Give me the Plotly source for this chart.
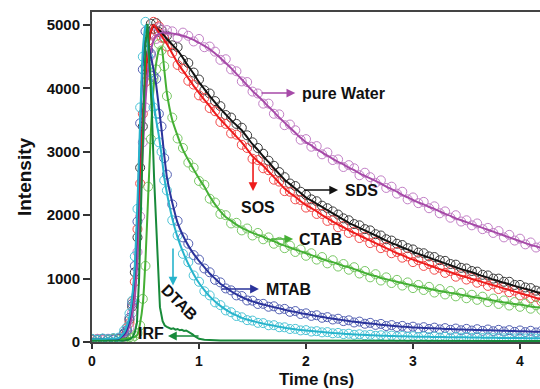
import plotly.graph_objects as go

# ---------------- data ----------------
t_data = [0.00, 0.05, 0.10, 0.15, 0.20, 0.25, 0.30, 0.325, 0.35, 0.375,
          0.40, 0.425, 0.45, 0.475, 0.50, 0.525, 0.55, 0.575, 0.60, 0.625,
          0.65, 0.675, 0.70, 0.75, 0.80, 0.85, 0.90, 0.95, 1.00, 1.05,
          1.10, 1.15, 1.20, 1.25, 1.30, 1.35, 1.40, 1.45, 1.50, 1.55,
          1.60, 1.65, 1.70, 1.75, 1.80, 1.85, 1.90, 1.95, 2.00, 2.05,
          2.10, 2.15, 2.20, 2.25, 2.30, 2.35, 2.40, 2.45, 2.50, 2.55,
          2.60, 2.65, 2.70, 2.75, 2.80, 2.85, 2.90, 2.95, 3.00, 3.05,
          3.10, 3.15, 3.20, 3.25, 3.30, 3.35, 3.40, 3.45, 3.50, 3.55,
          3.60, 3.65, 3.70, 3.75, 3.80, 3.85, 3.90, 3.95, 4.00, 4.05,
          4.10, 4.15, 4.20]

# measured decays (open circles)
water_data = [35, 48, 30, 52, 41, 58, 80, 175, 230, 460,
              650, 1420, 1980, 3150, 3700, 4420, 4520, 4860, 4780, 4960,
              4930, 4850, 4920, 4900, 4800, 4880, 4830, 4740, 4780, 4650,
              4660, 4580, 4450, 4460, 4300, 4270, 4110, 4100, 3950, 3920,
              3760, 3760, 3600, 3590, 3420, 3430, 3340, 3190, 3200, 3080,
              3090, 2960, 2990, 2870, 2880, 2760, 2790, 2740, 2630, 2670,
              2600, 2510, 2550, 2430, 2450, 2340, 2370, 2250, 2280, 2190,
              2210, 2110, 2140, 2030, 2060, 1960, 2000, 1900, 1920, 1840,
              1870, 1780, 1800, 1720, 1750, 1650, 1690, 1600, 1630, 1540,
              1570, 1490, 1510]
sds_data = [45, 32, 50, 38, 55, 47, 130, 180, 350, 560,
            1100, 1650, 2750, 3400, 4350, 4600, 5020, 4940, 5030, 4890,
            4920, 4800, 4830, 4680, 4650, 4450, 4400, 4250, 4140, 3970,
            3920, 3800, 3720, 3580, 3540, 3440, 3380, 3260, 3150, 3060,
            2970, 2860, 2780, 2680, 2600, 2500, 2460, 2370, 2320, 2250,
            2220, 2150, 2110, 2060, 2010, 1950, 1920, 1860, 1840, 1780,
            1760, 1700, 1680, 1620, 1600, 1550, 1530, 1480, 1460, 1410,
            1400, 1350, 1340, 1290, 1280, 1230, 1220, 1170, 1160, 1120,
            1110, 1060, 1050, 1000, 1000, 950, 950, 900, 900, 860,
            850, 810, 800]
sos_data = [38, 50, 42, 35, 48, 55, 95, 220, 300, 640,
            950, 1780, 2500, 3600, 4100, 4750, 4850, 5050, 4900, 4980,
            4800, 4790, 4660, 4560, 4370, 4310, 4120, 4060, 3890, 3850,
            3690, 3640, 3470, 3440, 3290, 3270, 3110, 3060, 2890, 2870,
            2740, 2710, 2560, 2530, 2380, 2370, 2250, 2240, 2120, 2130,
            2020, 2020, 1910, 1920, 1810, 1830, 1720, 1740, 1640, 1660,
            1560, 1580, 1480, 1500, 1400, 1420, 1330, 1350, 1260, 1290,
            1200, 1230, 1140, 1170, 1090, 1120, 1030, 1065, 985, 1010,
            935, 960, 885, 910, 835, 860, 785, 810, 735, 760,
            690, 710, 640]
ctab_data = [42, 30, 48, 36, 50, 40, 55, 48, 70, 62,
             95, 140, 260, 680, 1200, 2450, 3200, 4150, 4300, 4700,
             4600, 4350, 3880, 3540, 3210, 3060, 2830, 2750, 2540, 2480,
             2260, 2200, 2020, 2000, 1870, 1880, 1760, 1790, 1680, 1720,
             1620, 1650, 1550, 1580, 1480, 1520, 1420, 1460, 1360, 1400,
             1300, 1340, 1240, 1290, 1190, 1230, 1140, 1180, 1080, 1120,
             1020, 1070, 970, 1020, 930, 980, 890, 940, 850, 900,
             820, 870, 780, 835, 750, 805, 720, 775, 690, 745,
             665, 715, 630, 685, 600, 655, 575, 630, 555, 605,
             525, 580, 505]
mtab_data = [45, 35, 50, 42, 38, 55, 140, 180, 380, 600,
             1200, 1900, 3450, 4300, 4900, 4600, 4550, 4200, 4150, 3600,
             3400, 2900, 2640, 2170, 1910, 1650, 1550, 1370, 1300, 1160,
             1100, 980, 940, 845, 815, 735, 725, 655, 652, 600,
             602, 556, 563, 515, 522, 476, 488, 441, 452, 412,
             422, 382, 392, 355, 367, 330, 342, 308, 322, 288,
             302, 270, 285, 252, 267, 236, 254, 224, 242, 214,
             234, 206, 227, 199, 219, 192, 212, 185, 207, 180,
             202, 175, 197, 170, 192, 166, 187, 160, 182, 156,
             177, 150, 172]
dtab_data = [50, 38, 55, 42, 60, 70, 180, 230, 450, 650,
             1350, 2100, 3700, 4500, 5050, 4500, 4250, 3700, 3600, 3150,
             3000, 2550, 2390, 1920, 1680, 1390, 1260, 1050, 950, 800,
             735, 625, 582, 498, 470, 410, 390, 345, 338, 302,
             298, 264, 265, 233, 232, 205, 207, 183, 187, 165,
             171, 152, 156, 137, 143, 125, 131, 114, 122, 106,
             114, 98, 106, 91, 101, 86, 96, 82, 91, 78,
             88, 75, 86, 72, 83, 70, 81, 68, 79, 66,
             76, 63, 74, 61, 71, 58, 69, 56, 68, 55,
             66, 54, 65]

# fitted curves (solid lines), same time grid
water_fit = [40, 40, 40, 45, 45, 50, 90, 150, 250, 420,
             700, 1300, 2100, 3000, 3800, 4300, 4600, 4750, 4830, 4860,
             4880, 4880, 4875, 4865, 4850, 4830, 4800, 4765, 4720, 4670,
             4620, 4550, 4480, 4400, 4320, 4230, 4140, 4050, 3960, 3880,
             3800, 3710, 3630, 3540, 3460, 3380, 3300, 3220, 3150, 3100,
             3040, 2990, 2940, 2890, 2840, 2800, 2750, 2710, 2660, 2620,
             2580, 2540, 2500, 2450, 2410, 2370, 2320, 2280, 2240, 2200,
             2170, 2130, 2100, 2060, 2020, 1990, 1950, 1920, 1890, 1860,
             1830, 1800, 1770, 1740, 1710, 1680, 1650, 1620, 1590, 1560,
             1530, 1510, 1480]
sds_fit = [40, 40, 40, 45, 45, 50, 110, 200, 320, 600,
           1000, 1700, 2600, 3500, 4200, 4650, 4900, 4980, 4960, 4920,
           4880, 4830, 4780, 4690, 4600, 4480, 4350, 4230, 4100, 3990,
           3880, 3780, 3680, 3590, 3500, 3420, 3340, 3230, 3120, 3030,
           2930, 2840, 2740, 2650, 2560, 2490, 2420, 2350, 2280, 2230,
           2180, 2130, 2080, 2030, 1980, 1930, 1880, 1840, 1800, 1760,
           1720, 1680, 1640, 1600, 1560, 1530, 1490, 1460, 1420, 1390,
           1360, 1330, 1300, 1270, 1240, 1210, 1180, 1150, 1125, 1100,
           1070, 1040, 1015, 985, 960, 935, 910, 885, 860, 840,
           815, 790, 770]
sos_fit = [40, 40, 40, 45, 45, 50, 110, 200, 320, 600,
           1000, 1700, 2600, 3500, 4200, 4650, 4900, 5000, 4950, 4880,
           4830, 4760, 4700, 4550, 4400, 4280, 4160, 4040, 3930, 3820,
           3720, 3610, 3510, 3420, 3330, 3240, 3150, 3040, 2930, 2850,
           2780, 2690, 2600, 2510, 2420, 2350, 2290, 2220, 2160, 2110,
           2060, 2000, 1950, 1900, 1850, 1810, 1760, 1720, 1680, 1640,
           1600, 1560, 1520, 1480, 1440, 1400, 1370, 1330, 1300, 1270,
           1240, 1210, 1180, 1150, 1125, 1100, 1070, 1045, 1020, 995,
           970, 945, 920, 895, 870, 845, 820, 795, 770, 745,
           720, 695, 670]
ctab_fit = [40, 40, 40, 40, 45, 45, 50, 55, 60, 70,
            80, 120, 300, 600, 1300, 2300, 3300, 4000, 4400, 4600,
            4650, 4300, 3925, 3500, 3250, 3030, 2870, 2720, 2580, 2450,
            2300, 2170, 2060, 1970, 1910, 1850, 1800, 1760, 1720, 1690,
            1660, 1620, 1590, 1550, 1520, 1490, 1460, 1430, 1400, 1370,
            1340, 1310, 1280, 1260, 1230, 1200, 1180, 1150, 1120, 1090,
            1060, 1040, 1010, 990, 970, 950, 930, 910, 890, 870,
            855, 840, 820, 805, 790, 775, 760, 745, 730, 715,
            700, 685, 670, 655, 640, 625, 610, 600, 590, 575,
            560, 550, 540]
mtab_fit = [40, 40, 45, 40, 45, 50, 120, 200, 350, 650,
            1100, 2000, 3300, 4400, 4800, 4700, 4500, 4300, 4050, 3700,
            3350, 2950, 2600, 2200, 1880, 1680, 1520, 1390, 1280, 1180,
            1080, 1000, 920, 860, 800, 750, 710, 670, 640, 615,
            590, 570, 550, 530, 510, 490, 475, 455, 440, 425,
            410, 395, 380, 368, 355, 343, 330, 320, 310, 300,
            290, 282, 273, 264, 255, 248, 242, 236, 230, 226,
            222, 218, 215, 211, 207, 204, 200, 197, 195, 192,
            190, 187, 185, 182, 180, 178, 175, 172, 170, 168,
            165, 162, 160]
dtab_fit = [45, 45, 45, 50, 50, 60, 150, 250, 400, 700,
            1200, 2200, 3500, 4600, 5000, 4600, 4150, 3800, 3500, 3250,
            2950, 2600, 2350, 1950, 1650, 1420, 1230, 1070, 930, 820,
            720, 640, 570, 510, 460, 420, 380, 355, 330, 310,
            290, 272, 258, 240, 225, 212, 200, 190, 180, 172,
            165, 158, 150, 143, 137, 131, 125, 120, 116, 112,
            108, 104, 100, 97, 95, 92, 90, 88, 85, 84,
            82, 81, 80, 78, 77, 76, 75, 74, 73, 72,
            70, 69, 68, 67, 65, 64, 63, 62, 62, 61,
            60, 60, 60]

# instrument response function
t_irf = [0.00, 0.10, 0.20, 0.30, 0.35, 0.38, 0.40, 0.42, 0.44, 0.46,
         0.48, 0.50, 0.52, 0.54, 0.56, 0.58, 0.60, 0.62, 0.635, 0.66,
         0.68, 0.70, 0.72, 0.74, 0.76, 0.78, 0.80, 0.82, 0.84, 0.86,
         0.88, 0.90, 0.92, 0.94, 0.96, 0.98, 1.00, 1.05, 1.10, 1.20,
         1.50, 2.00, 2.50, 3.00, 3.50, 4.00, 4.20]
irf = [20, 22, 20, 25, 40, 80, 150, 300, 1000, 2200,
       3700, 4700, 5020, 4300, 3600, 2600, 1800, 1000, 550, 330,
       260, 240, 225, 205, 215, 195, 205, 185, 192, 175,
       182, 160, 150, 120, 90, 70, 50, 35, 28, 25,
       22, 20, 20, 18, 18, 16, 16]

series = [
    # name, data, fit, marker colour, line colour
    ("SDS", sds_data, sds_fit, "#3a3a3a", "#111111"),
    ("SOS", sos_data, sos_fit, "#f24a4a", "#ee1c1c"),
    ("pure Water", water_data, water_fit, "#c27fc6", "#a64aa8"),
    ("CTAB", ctab_data, ctab_fit, "#79c865", "#45b035"),
    ("MTAB", mtab_data, mtab_fit, "#5360b3", "#2a339b"),
    ("DTAB", dtab_data, dtab_fit, "#4cc4d6", "#27b4cc"),
]
for _, d, f, _, _ in series:
    assert len(d) == len(t_data) and len(f) == len(t_data)
assert len(irf) == len(t_irf)

# label annotations: text, x, y, anchor, colour, arrow (tail x, tail y, head x, head y)
labels = [
    ("pure Water", 1.944, 3927, "left", "#a64aa8", (1.57, 3927, 1.90, 3927)),
    ("SDS", 2.35, 2397, "left", "#111111", (1.97, 2397, 2.30, 2397)),
    ("SOS", 1.55, 2129, "center", "#ee1c1c", (1.505, 2917, 1.505, 2380)),
    ("CTAB", 1.916, 1624, "left", "#45b035", (1.66, 1624, 1.88, 1624)),
    ("MTAB", 1.61, 836, "left", "#2a339b", (1.20, 836, 1.56, 836)),
    ("IRF", 0.547, 142, "center", "#178a3a", (1.01, 95, 0.71, 95)),
]

fig = go.Figure()

for name, d, f, mc, lc in series:
    fig.add_trace(go.Scatter(
        x=t_data, y=d, mode="markers", name=name + " data", showlegend=False,
        marker=dict(symbol="circle-open", size=9, color=mc, line=dict(width=1, color=mc)),
    ))

for name, d, f, mc, lc in series:
    fig.add_trace(go.Scatter(
        x=t_data, y=f, mode="lines", name=name, showlegend=False,
        line=dict(color=lc, width=2, shape="spline", smoothing=0.5),
    ))

fig.add_trace(go.Scatter(
    x=t_irf, y=irf, mode="lines", name="IRF", showlegend=False,
    line=dict(color="#178a3a", width=2),
))

ann_font = dict(family="Liberation Sans, Arial, sans-serif", size=16, color="#111111", weight="bold")
for text, x, y, anchor, col, (tx, ty, hx, hy) in labels:
    fig.add_annotation(x=hx, y=hy, ax=tx, ay=ty, xref="x", yref="y", axref="x", ayref="y",
                       text="", showarrow=True, arrowhead=2, arrowsize=1.1, arrowwidth=1.6,
                       arrowcolor=col, standoff=0, startstandoff=0)
    fig.add_annotation(x=x, y=y, xref="x", yref="y", text=text, showarrow=False,
                       xanchor=anchor, yanchor="middle", font=ann_font)

# DTAB: rotated label with a vertical arrow
fig.add_annotation(x=0.757, y=890, ax=0.757, ay=1500, xref="x", yref="y", axref="x", ayref="y",
                   text="", showarrow=True, arrowhead=2, arrowsize=1.1, arrowwidth=1.6,
                   arrowcolor="#27b4cc", standoff=0, startstandoff=0)
fig.add_annotation(x=0.82, y=630, xref="x", yref="y", text="DTAB", showarrow=False,
                   textangle=45, font=ann_font)

axis_font = dict(family="Liberation Sans, Arial, sans-serif", size=15, color="#111111", weight="bold")
xtick_font = dict(family="Liberation Sans, Arial, sans-serif", size=14, color="#111111", weight="bold")
title_font = dict(family="Liberation Sans, Arial, sans-serif", size=19, color="#111111", weight="bold")

# x-axis title, placed just under the tick labels
fig.add_annotation(x=0.5, y=0, xref="paper", yref="paper", yanchor="bottom", yshift=-48,
                   text="Time (ns)", showarrow=False, font=dict(title_font, size=17),
                   borderpad=0)

fig.update_layout(
    width=540, height=389,
    margin=dict(l=92, r=0, t=12, b=47),
    paper_bgcolor="white", plot_bgcolor="white",
    showlegend=False,
)
fig.update_xaxes(
    range=[0, 4.187], tickvals=[0, 1, 2, 3, 4], ticks="outside", ticklen=5, tickwidth=2,
    tickcolor="#333333", showline=True, linecolor="#444444", linewidth=2, mirror=True,
    showgrid=False, zeroline=False, tickfont=xtick_font,
)
fig.update_yaxes(
    range=[0, 5205], tickvals=[0, 1000, 2000, 3000, 4000, 5000], ticks="outside", ticklen=7,
    tickwidth=2, tickcolor="#333333", showline=True, linecolor="#444444", linewidth=2,
    showgrid=False, zeroline=False, tickfont=axis_font,
    title=dict(text="Intensity", font=title_font, standoff=10),
)

fig.write_html("out.html")
